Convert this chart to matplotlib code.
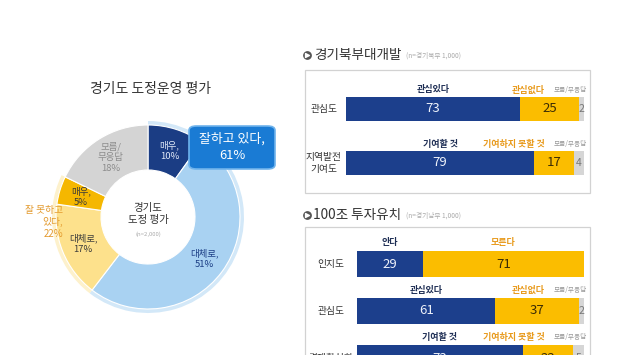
import matplotlib
matplotlib.use("Agg")
import matplotlib.pyplot as plt
from matplotlib.patches import FancyBboxPatch, Rectangle
import numpy as np

plt.rcParams['font.family'] = ['Noto Sans CJK KR', 'DejaVu Sans']

W, H = 627, 355

# donut data
pie_labels = ['매우,\n10%', '대체로,\n51%', '대체로,\n17%', '매우,\n5%', '모름/\n무응답\n18%']
pie_values = [10, 51, 17, 5, 18]
pie_colors = ['#1b3d84', '#a9d2f2', '#fde18c', '#f5b700', '#d4d4d4']
pie_text_colors = ['#dfe8f7', '#1b3d84', '#3a3a3a', '#3a3a3a', '#8c8c8c']

# bar panels
p1_rows = ['관심도', '지역발전\n기여도']
p1_yes = [73, 79]
p1_no = [25, 17]
p1_dk = [2, 4]
p1_heads = [('관심있다', '관심없다'), ('기여할 것', '기여하지 못할 것')]

p2_rows = ['인지도', '관심도', '경제활성화']
p2_yes = [29, 61, 73]
p2_no = [71, 37, 22]
p2_dk = [0, 2, 5]
p2_heads = [('안다', '모른다'), ('관심있다', '관심없다'), ('기여할 것', '기여하지 못할 것')]

NAVY = '#1c3f8c'
GOLD = '#fbbd00'
GRAY = '#d6d6d6'
ORANGE = '#e89a1c'

fig = plt.figure(figsize=(W / 100, H / 100), dpi=100)
fig.patch.set_facecolor('white')


def px_axes(x0, y0, x1, y1, z=1):
    return fig.add_axes([x0 / W, 1 - y1 / H, (x1 - x0) / W, (y1 - y0) / H], zorder=z)


# overlay for text / boxes in pixel coords
ov = px_axes(0, 0, W, H, z=0)
ov.set_xlim(0, W)
ov.set_ylim(H, 0)
ov.axis('off')

# ---- donut ----
cx, cy, R = 148, 217, 92
ax = px_axes(cx - 110, cy - 110, cx + 110, cy + 110, z=2)

good = pie_values[0] + pie_values[1]
bad = pie_values[2] + pie_values[3]
rest = sum(pie_values) - good - bad
# halo rings
ax.pie([good, bad, rest], radius=R + 4, startangle=90, counterclock=False,
       colors=['#d3e8f8', '#fdf1cc', 'none'], wedgeprops=dict(width=12, edgecolor='none'))
wedges, _ = ax.pie(pie_values, radius=R, startangle=90, counterclock=False,
                   colors=pie_colors, wedgeprops=dict(width=R - 47, edgecolor='white', linewidth=0.8))
ax.set_xlim(-110, 110)
ax.set_ylim(-110, 110)
ax.set_aspect('equal')
ax.axis('off')
for w, lab, tc in zip(wedges, pie_labels, pie_text_colors):
    ang = np.deg2rad((w.theta1 + w.theta2) / 2)
    r = 70
    ax.text(r * np.cos(ang), r * np.sin(ang), lab, ha='center', va='center',
            fontsize=6.8, color=tc, linespacing=1.25)

ov.text(151, 89, '경기도 도정운영 평가', ha='center', va='center', fontsize=10, color='#333333')
fig.text(148 / W, 1 - 214 / H, '경기도\n도정 평가', ha='center', va='center', fontsize=7.5,
         color='#333333', linespacing=1.2, zorder=5)
fig.text(148 / W, 1 - 234 / H, '(n=2,000)', ha='center', va='center', fontsize=4.3,
         color='#aaaaaa', zorder=5)
fig.text(63 / W, 1 - 222 / H, '잘 못하고\n있다,\n22%', ha='right', va='center', fontsize=7,
         color='#e39a2e', linespacing=1.2, zorder=6)
# callout
box = FancyBboxPatch((189 / W, 1 - 169 / H), 86 / W, 43 / H,
                     boxstyle='round,pad=0,rounding_size=0.012', transform=fig.transFigure,
                     facecolor='#1a7bd4', edgecolor='#6fb3ec', linewidth=1.2, zorder=9)
fig.patches.append(box)
fig.text(232 / W, 1 - 147 / H, '잘하고 있다,\n61%', ha='center', va='center',
         fontsize=9.3, color='white', linespacing=1.35, zorder=10)


# ---- bar panels ----
def bullet(x, y):
    ov.scatter([x], [y], s=28, color='#555555', zorder=3)
    ov.scatter([x + 0.4], [y], s=8, marker='>', color='white', zorder=4)


def panel(rows, yes, no, dk, heads, x0, x1, y_first, pitch, bar_px, head_px, label_x):
    n = len(rows)
    ytop = y_first - pitch / 2
    a = px_axes(x0, ytop, x1, ytop + n * pitch, z=3)
    a.set_xlim(0, 100)
    a.set_ylim(n - 0.5, -0.5)
    a.axis('off')
    ypos = np.arange(n)
    h = bar_px / pitch
    yes = np.array(yes)
    no = np.array(no)
    dk = np.array(dk)
    a.barh(ypos, yes, height=h, color=NAVY, clip_on=False)
    a.barh(ypos, no, left=yes, height=h, color=GOLD, clip_on=False)
    a.barh(ypos, dk, left=yes + no, height=h, color=GRAY, clip_on=False)
    unit = 100 / (x1 - x0)
    hy = -head_px / pitch
    for i in range(n):
        a.text(yes[i] / 2, i, str(yes[i]), ha='center', va='center', fontsize=9.5, color='#eef2fa')
        a.text(yes[i] + no[i] / 2, i, str(no[i]), ha='center', va='center', fontsize=9.5, color='#3b2c05')
        a.text(yes[i] / 2, i + hy, heads[i][0], ha='center', va='center', fontsize=6.5,
               color='#1f2f55', fontweight='bold')
        if dk[i] > 0:
            a.text(yes[i] + no[i] + dk[i] / 2, i, str(dk[i]), ha='center', va='center',
                   fontsize=7.5, color='#777777')
            a.text(100 + 3 * unit, i + hy, '모름/무응답', ha='right', va='center', fontsize=4.8,
                   color='#999999')
            a.text(100 - 39 * unit, i + hy, heads[i][1], ha='right', va='center', fontsize=6.5,
                   color=ORANGE, fontweight='bold')
        else:
            a.text(yes[i] + no[i] / 2, i + hy, heads[i][1], ha='center', va='center', fontsize=6.5,
                   color=ORANGE, fontweight='bold')
        ov.text(label_x, y_first + i * pitch, rows[i], ha='center', va='center', fontsize=7,
                color='#333333', linespacing=1.3)


# panel 1
bullet(307, 55)
ov.text(314, 55, '경기북부대개발', ha='left', va='center', fontsize=9.8, color='#333333')
ov.text(406, 56, '(n=경기북부 1,000)', ha='left', va='center', fontsize=4.8, color='#aaaaaa')
ov.add_patch(Rectangle((305, 70), 285, 123, facecolor='white', edgecolor='#d2d2d2', linewidth=0.9))
panel(p1_rows, p1_yes, p1_no, p1_dk, p1_heads, 346, 584, 109, 54, 24, 19, 324)

# panel 2
bullet(307, 215)
ov.text(313, 215, '100조 투자유치', ha='left', va='center', fontsize=9.8, color='#333333')
ov.text(406, 216, '(n=경기남부 1,000)', ha='left', va='center', fontsize=4.8, color='#aaaaaa')
ov.add_patch(Rectangle((305, 227), 285, 160, facecolor='white', edgecolor='#d2d2d2', linewidth=0.9))
panel(p2_rows, p2_yes, p2_no, p2_dk, p2_heads, 357, 584, 264, 47, 26, 21, 331)

fig.savefig('out.png', dpi=100, facecolor='white')
